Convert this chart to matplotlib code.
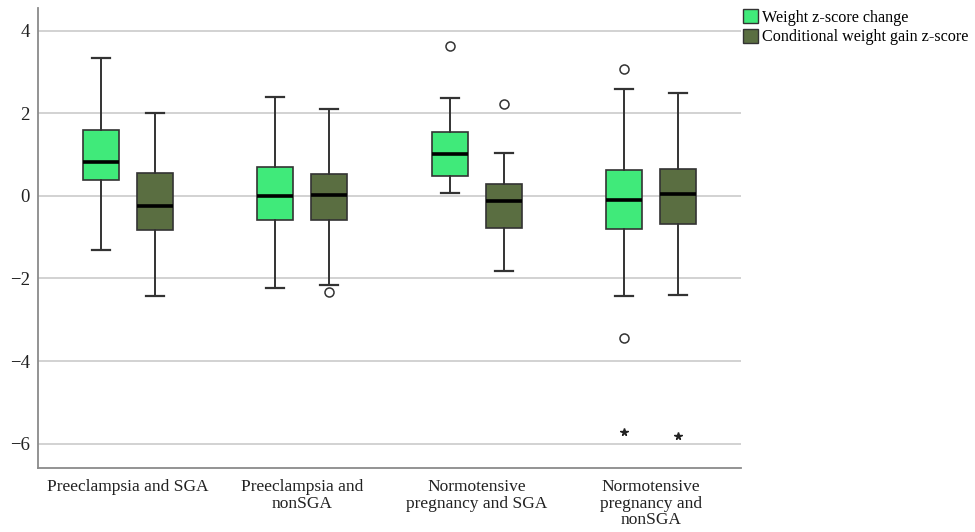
import matplotlib
matplotlib.use("Agg")
import matplotlib.pyplot as plt
from matplotlib.patches import Patch

categories = ["Preeclampsia and SGA", "Preeclampsia and\nnonSGA",
              "Normotensive\npregnancy and SGA", "Normotensive\npregnancy and\nnonSGA"]
series = ["Weight z-score change", "Conditional weight gain z-score"]
colors = ["#40EA7A", "#5A6E41"]

# per series: [whislo, q1, med, q3, whishi] per category
stats = {
    "Weight z-score change": [
        [-1.31, 0.39, 0.83, 1.60, 3.34],
        [-2.24, -0.58, 0.00, 0.70, 2.40],
        [0.07, 0.48, 1.02, 1.54, 2.37],
        [-2.42, -0.80, -0.09, 0.63, 2.59],
    ],
    "Conditional weight gain z-score": [
        [-2.42, -0.82, -0.25, 0.55, 2.01],
        [-2.17, -0.59, 0.03, 0.53, 2.10],
        [-1.82, -0.77, -0.13, 0.29, 1.04],
        [-2.41, -0.67, 0.05, 0.65, 2.48],
    ],
}
outliers = {
    "Weight z-score change": [[], [], [3.62], [3.07, -3.43]],
    "Conditional weight gain z-score": [[], [-2.32], [2.22], []],
}
extremes = {
    "Weight z-score change": [[], [], [], [-5.71]],
    "Conditional weight gain z-score": [[], [], [], [-5.81]],
}

yticks = [-6, -4, -2, 0, 2, 4]

plt.rcParams['font.family'] = ['Liberation Serif', 'DejaVu Serif']

fig = plt.figure(figsize=(9.75, 5.32), dpi=100)
ax = fig.add_axes([38/975, 1-468/532, (741-38)/975, (468-8)/532])

offsets = [-0.155, 0.155]
width = 0.206
edge = "#333333"
for si, s in enumerate(series):
    bxpstats = []
    for ci in range(len(categories)):
        lo, q1, med, q3, hi = stats[s][ci]
        bxpstats.append(dict(whislo=lo, q1=q1, med=med, q3=q3, whishi=hi,
                             fliers=outliers[s][ci]))
    pos = [ci + offsets[si] for ci in range(len(categories))]
    ax.bxp(bxpstats, positions=pos, widths=width, patch_artist=True,
           showfliers=True, manage_ticks=False,
           boxprops=dict(facecolor=colors[si], edgecolor=edge, linewidth=1.2),
           medianprops=dict(color="black", linewidth=2.6),
           whiskerprops=dict(color=edge, linewidth=1.4),
           capprops=dict(color=edge, linewidth=1.6),
           capwidths=width/2,
           flierprops=dict(marker="o", markerfacecolor="white",
                           markeredgecolor="#333333", markersize=6.5,
                           markeredgewidth=1.1, linestyle="none"))
    for ci in range(len(categories)):
        ev = extremes[s][ci]
        if ev:
            ax.plot([pos[ci]]*len(ev), ev, linestyle="none", marker="*",
                    color="#222222", markersize=5.5)

ax.set_xlim(-0.515, 3.515)
ax.set_ylim(-6.59, 4.55)
ax.set_yticks(yticks)
ax.set_yticklabels([f"{t}".replace("-", "\u2212") for t in yticks], fontsize=13.5)
ax.set_xticks(range(len(categories)))
ax.set_xticklabels(categories, fontsize=12.5, linespacing=1.05)
ax.tick_params(axis="both", length=0, colors="#222222")
ax.tick_params(axis="y", pad=6)
ax.tick_params(axis="x", pad=8)
ax.yaxis.grid(True, color="#CFCFCF", linewidth=1.3)
ax.set_axisbelow(True)
for sp in ["top", "right"]:
    ax.spines[sp].set_visible(False)
for sp in ["left", "bottom"]:
    ax.spines[sp].set_color("#8A8A8A")
    ax.spines[sp].set_linewidth(1.3)

handles = [Patch(facecolor=colors[i], edgecolor="#333333", linewidth=1.0, label=series[i])
           for i in range(2)]
fig.legend(handles=handles, loc="upper left", bbox_to_anchor=(743/975, 1-9/532),
           frameon=False, fontsize=11.6, handlelength=0.95, handleheight=1.0,
           handletextpad=0.2, labelspacing=0.18, borderaxespad=0, borderpad=0)

fig.savefig("out.png", dpi=100)
